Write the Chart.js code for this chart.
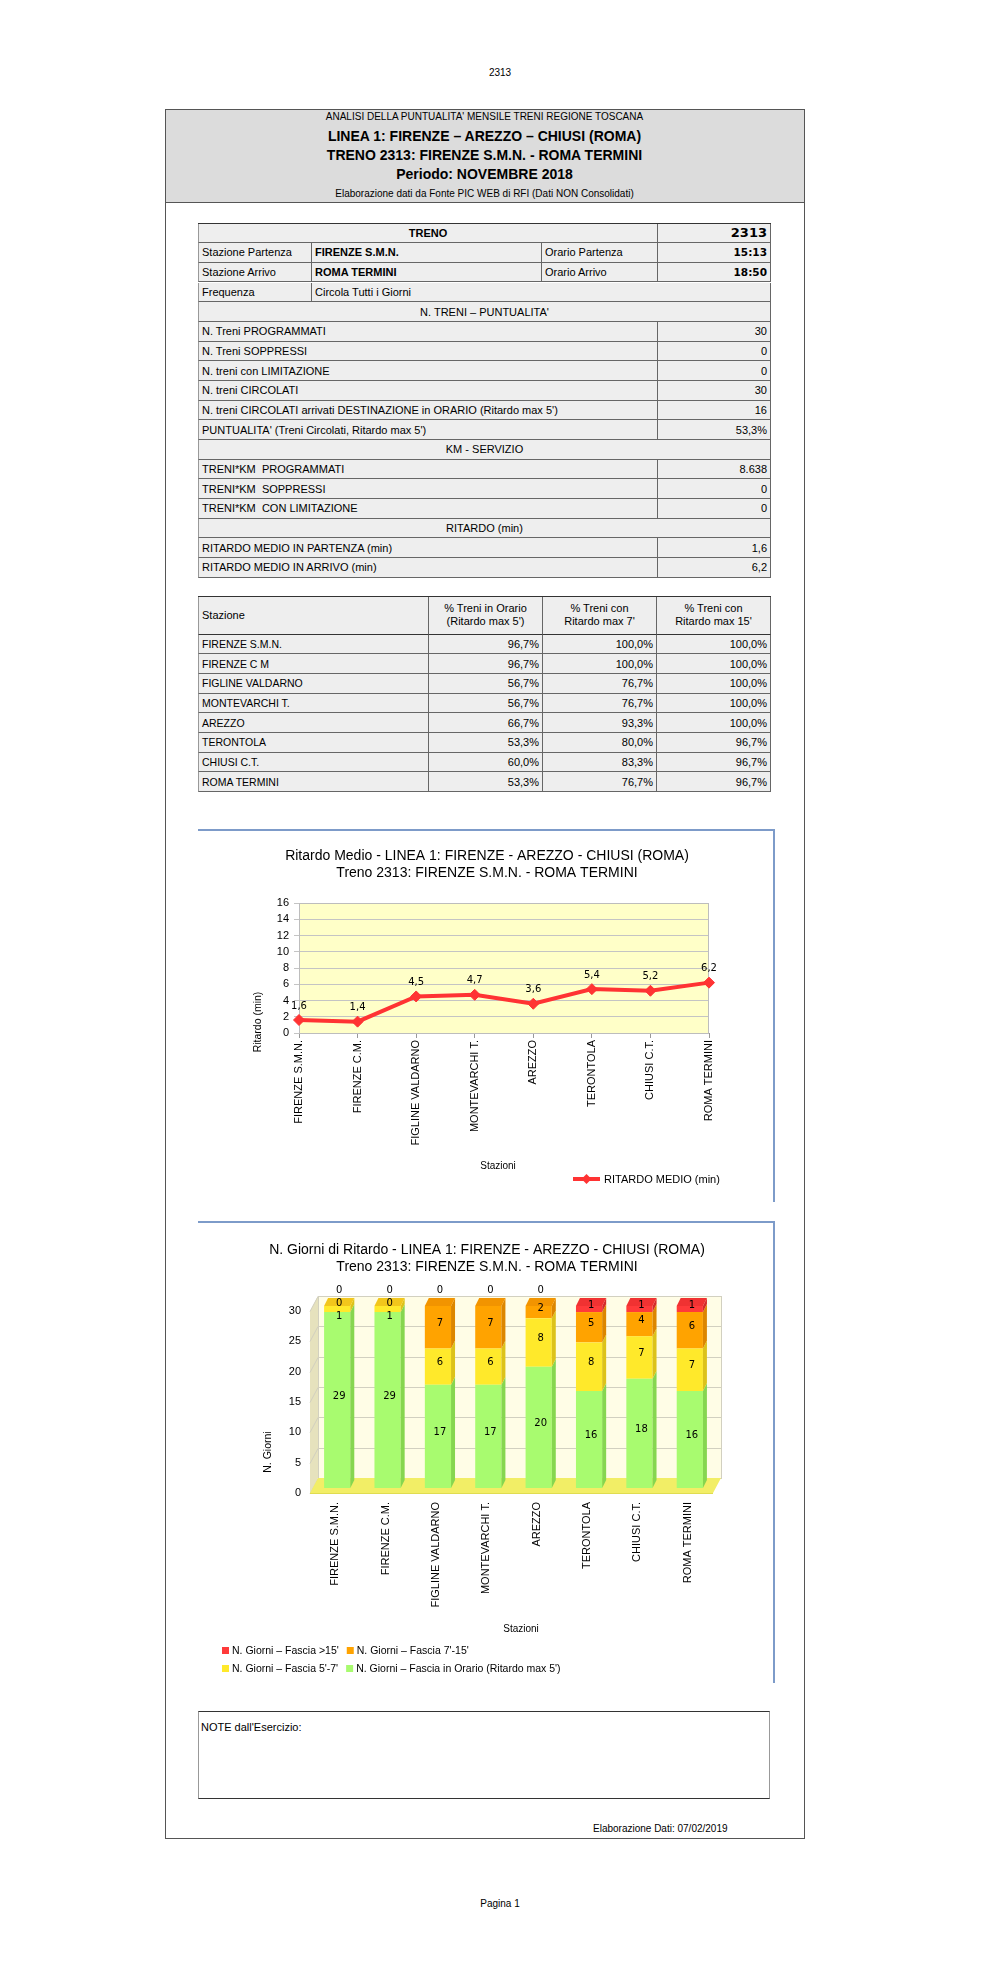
<!DOCTYPE html>
<html lang="it">
<head>
<meta charset="utf-8">
<title>2313</title>
<script src="https://cdn.jsdelivr.net/npm/chart.js@4.4.1/dist/chart.umd.min.js"></script>
<style>
  body { margin: 0; background: #fff; font-family: "Liberation Sans", Arial, sans-serif; color: #000; }
  #page { position: relative; width: 1000px; height: 1981px; overflow: hidden; }
  .frame { position: absolute; left: 165px; top: 109px; width: 638px; height: 1728px; border: 1px solid #555; }
  .head { position: absolute; left: 166px; top: 110px; width: 638px; height: 92px; background: #dcdcdc; border-bottom: 1px solid #555; }
  .chartbox { position: absolute; border-top: 2px solid #7d9bc9; border-right: 2px solid #7d9bc9; box-sizing: border-box; }
  canvas { position: absolute; }
</style>
</head>
<body>
<div id="page">
  <div class="frame"></div>
  <div class="head"></div>
  <div class="chartbox" style="left:198px;top:829px;width:577px;height:373px"></div>
  <div class="chartbox" style="left:198px;top:1221px;width:577px;height:462px"></div>
  <canvas id="c1" width="575" height="371" style="left:198px;top:830px"></canvas>
  <canvas id="c2" width="575" height="460" style="left:198px;top:1222px"></canvas>
</div>
<script>
// Dati del grafico
const stazioni = ['FIRENZE S.M.N.', 'FIRENZE C.M.', 'FIGLINE VALDARNO', 'MONTEVARCHI T.', 'AREZZO', 'TERONTOLA', 'CHIUSI C.T.', 'ROMA TERMINI'];
const ritardoMedio = [1.6, 1.4, 4.5, 4.7, 3.6, 5.4, 5.2, 6.2];
const giorniOrario = [29, 29, 17, 17, 20, 16, 18, 16];
const giorni5_7 = [1, 1, 6, 6, 8, 8, 7, 7];
const giorni7_15 = [0, 0, 7, 7, 2, 5, 4, 6];
const giorniOltre15 = [0, 0, 0, 0, 0, 1, 1, 1];
const ritardoAsse = { min: 0, max: 16, step: 2 };
const giorniAsse = { min: 0, max: 30, step: 5 };

// Dati delle tabelle
const stazioniTabella = ['FIRENZE S.M.N.', 'FIRENZE C M', 'FIGLINE VALDARNO', 'MONTEVARCHI T.', 'AREZZO', 'TERONTOLA', 'CHIUSI C.T.', 'ROMA TERMINI'];
const percOrario = ['96,7%', '96,7%', '56,7%', '56,7%', '66,7%', '53,3%', '60,0%', '53,3%'];
const percMax7 = ['100,0%', '100,0%', '76,7%', '76,7%', '93,3%', '80,0%', '83,3%', '76,7%'];
const percMax15 = ['100,0%', '100,0%', '100,0%', '100,0%', '100,0%', '96,7%', '96,7%', '96,7%'];

const righeTreno = [
  ['h', 'TRENO', '2313'],
  ['i4', 'Stazione Partenza', 'FIRENZE S.M.N.', 'Orario Partenza', '15:13'],
  ['i4', 'Stazione Arrivo', 'ROMA TERMINI', 'Orario Arrivo', '18:50'],
  ['i2', 'Frequenza', 'Circola Tutti i Giorni'],
  ['s', "N. TRENI – PUNTUALITA'"],
  ['kv', 'N. Treni PROGRAMMATI', '30'],
  ['kv', 'N. Treni SOPPRESSI', '0'],
  ['kv', 'N. treni con LIMITAZIONE', '0'],
  ['kv', 'N. treni CIRCOLATI', '30'],
  ['kv', "N. treni CIRCOLATI arrivati DESTINAZIONE in ORARIO (Ritardo max 5')", '16'],
  ['kv', "PUNTUALITA' (Treni Circolati, Ritardo max 5')", '53,3%'],
  ['s', 'KM - SERVIZIO'],
  ['kv', 'TRENI*KM  PROGRAMMATI', '8.638'],
  ['kv', 'TRENI*KM  SOPPRESSI', '0'],
  ['kv', 'TRENI*KM  CON LIMITAZIONE', '0'],
  ['s', 'RITARDO (min)'],
  ['kv', 'RITARDO MEDIO IN PARTENZA (min)', '1,6'],
  ['kv', 'RITARDO MEDIO IN ARRIVO (min)', '6,2']
];

const page = document.getElementById('page');

function box(x, y, w, h, css, text) {
  const d = document.createElement('div');
  d.style.cssText = `position:absolute;left:${x}px;top:${y}px;width:${w}px;height:${h}px;` + (css || '');
  if (text != null) d.textContent = text;
  page.appendChild(d);
  return d;
}

function testo(cx, cy, text, css) {
  return box(cx - 300, cy - 10, 600, 20, 'text-align:center;line-height:20px;white-space:pre;' + (css || ''), text);
}

// Intestazione pagina
testo(500, 73, '2313', 'font-size:10px');
testo(484.5, 117, "ANALISI DELLA PUNTUALITA' MENSILE TRENI REGIONE TOSCANA", 'font-size:10px');
testo(484.5, 135.5, 'LINEA 1: FIRENZE – AREZZO – CHIUSI (ROMA)', 'font-size:14px;font-weight:bold');
testo(484.5, 155, 'TRENO 2313: FIRENZE S.M.N. - ROMA TERMINI', 'font-size:14px;font-weight:bold');
testo(484.5, 174, 'Periodo: NOVEMBRE 2018', 'font-size:14px;font-weight:bold');
testo(484.5, 194, 'Elaborazione dati da Fonte PIC WEB di RFI (Dati NON Consolidati)', 'font-size:10px');
testo(500, 1904, 'Pagina 1', 'font-size:10px');

const cellCss = 'background:#eee;box-sizing:border-box;border-right:1px solid #666;border-bottom:1px solid #666;' +
  'display:flex;align-items:center;padding:0 3px;font-size:11px;white-space:pre;overflow:hidden;';

function cella(x0, x1, y, h, text, extra) {
  return box(x0, y, x1 - x0, h, cellCss + (extra || ''), text);
}

// Tabella treno
const col = [198, 312, 542, 658, 771];
const rh = 19.67;
box(198, 222.5, 573, 1, 'background:#333');
righeTreno.forEach((r, i) => {
  const y = 223.5 + i * rh;
  const left = 'border-left:1px solid #999;';
  const right = 'justify-content:flex-end;';
  if (r[0] === 'h') {
    cella(col[0], col[3], y, rh, r[1], left + 'justify-content:center;font-weight:bold');
    cella(col[3], col[4], y, rh, r[2], right + 'font-weight:bold;font-size:13px;font-family:"DejaVu Sans"');
  } else if (r[0] === 'i4') {
    cella(col[0], col[1], y, rh, r[1], left);
    cella(col[1], col[2], y, rh, r[2], 'font-weight:bold');
    cella(col[2], col[3], y, rh, r[3]);
    cella(col[3], col[4], y, rh, r[4], right + 'font-weight:bold;font-size:10.5px;font-family:"DejaVu Sans"');
  } else if (r[0] === 'i2') {
    cella(col[0], col[1], y, rh, r[1], left);
    cella(col[1], col[4], y, rh, r[2]);
  } else if (r[0] === 's') {
    cella(col[0], col[4], y, rh, r[1], left + 'justify-content:center');
  } else {
    cella(col[0], col[3], y, rh, r[1], left);
    cella(col[3], col[4], y, rh, r[2], right);
  }
});

// Tabella stazioni
const col2 = [198, 429, 543, 657, 771];
box(198, 595.5, 573, 1, 'background:#333');
const hdr = ['Stazione', "% Treni in Orario\n(Ritardo max 5')", '% Treni con\nRitardo max 7\'', "% Treni con\nRitardo max 15'"];
hdr.forEach((t, j) => {
  cella(col2[j], col2[j + 1], 596.5, 38, t,
    (j === 0 ? 'border-left:1px solid #999;' : 'justify-content:center;text-align:center;line-height:13px;') + 'border-bottom:1.5px solid #333');
});
stazioniTabella.forEach((s, i) => {
  const y = 634.5 + i * 19.7;
  cella(col2[0], col2[1], y, 19.7, s, 'border-left:1px solid #999;font-size:10.5px');
  [percOrario, percMax7, percMax15].forEach((arr, j) => {
    cella(col2[j + 1], col2[j + 2], y, 19.7, arr[i], 'justify-content:flex-end');
  });
});

// Note e piè di pagina
box(198, 1711, 572, 88, 'box-sizing:border-box;border-top:1.5px solid #333;border-bottom:1.5px solid #333;border-left:1px solid #999;border-right:1px solid #999');
box(201, 1718, 300, 18, 'font-size:11px;line-height:18px', "NOTE dall'Esercizio:");
box(593, 1821, 200, 16, 'font-size:10px;line-height:16px;white-space:nowrap', 'Elaborazione Dati: 07/02/2019');

// Grafici
Chart.defaults.font.family = '"Liberation Sans", Arial, sans-serif';
Chart.defaults.color = '#000';

const fmt = v => v.toFixed(1).replace('.', ',');
const titoloFont = { family: '"Liberation Sans", Arial, sans-serif', size: 14, weight: 'normal', lineHeight: 1.2 };
const tickFont = { size: 11 };

function testoRuotato(ctx, text, x, y, font) {
  ctx.save();
  ctx.translate(x, y);
  ctx.rotate(-Math.PI / 2);
  ctx.font = font;
  ctx.textAlign = 'center';
  ctx.textBaseline = 'middle';
  ctx.fillText(text, 0, 0);
  ctx.restore();
}

const decoro1 = {
  id: 'decoro1',
  beforeDraw(chart) {
    const { ctx, chartArea: a } = chart;
    ctx.save();
    ctx.fillStyle = '#ffffc8';
    ctx.fillRect(a.left, a.top, a.width, a.height);
    ctx.restore();
  },
  beforeDatasetsDraw(chart) {
    const { ctx, chartArea: a } = chart;
    ctx.save();
    ctx.strokeStyle = '#bdbdbd';
    ctx.lineWidth = 1;
    ctx.strokeRect(a.left + 0.5, a.top + 0.5, a.width - 1, a.height);
    ctx.restore();
  },
  afterDatasetsDraw(chart) {
    const ctx = chart.ctx;
    const meta = chart.getDatasetMeta(0);
    ctx.save();
    ctx.font = '10px "DejaVu Sans"';
    ctx.fillStyle = '#000';
    ctx.textAlign = 'center';
    ctx.textBaseline = 'middle';
    meta.data.forEach((p, i) => ctx.fillText(fmt(ritardoMedio[i]), p.x, p.y - 14));
    ctx.restore();
  },
  afterDraw(chart) {
    const ctx = chart.ctx;
    const ds = chart.data.datasets[0];
    testoRuotato(ctx, 'Ritardo (min)', 60, 192, '10.5px "Liberation Sans"');
    ctx.save();
    ctx.font = '10px "Liberation Sans"';
    ctx.textAlign = 'center';
    ctx.textBaseline = 'middle';
    ctx.fillText('Stazioni', 300, 336);
    // legenda
    ctx.strokeStyle = ds.borderColor;
    ctx.fillStyle = ds.backgroundColor;
    ctx.lineWidth = 4;
    ctx.beginPath();
    ctx.moveTo(375, 349);
    ctx.lineTo(402, 349);
    ctx.stroke();
    ctx.beginPath();
    ctx.moveTo(388.5, 344);
    ctx.lineTo(393.5, 349);
    ctx.lineTo(388.5, 354);
    ctx.lineTo(383.5, 349);
    ctx.closePath();
    ctx.fill();
    ctx.fillStyle = '#000';
    ctx.font = '11px "Liberation Sans"';
    ctx.textAlign = 'left';
    ctx.fillText(ds.label, 406, 349.5);
    ctx.restore();
  }
};

new Chart(document.getElementById('c1'), {
  type: 'line',
  data: {
    labels: stazioni,
    datasets: [{
      label: 'RITARDO MEDIO (min)',
      data: ritardoMedio,
      borderColor: '#ff3333',
      backgroundColor: '#ff3333',
      borderWidth: 4,
      pointStyle: 'rectRot',
      pointRadius: 5.5,
      pointHoverRadius: 5.5,
      pointBorderWidth: 1,
      tension: 0
    }]
  },
  options: {
    responsive: false,
    animation: false,
    devicePixelRatio: 1,
    layout: { padding: { left: 67, right: 64, top: 0, bottom: 28 } },
    plugins: {
      legend: { display: false },
      tooltip: { enabled: false },
      title: {
        display: true,
        text: ['Ritardo Medio - LINEA 1: FIRENZE - AREZZO - CHIUSI (ROMA)', 'Treno 2313: FIRENZE S.M.N. - ROMA TERMINI'],
        font: titoloFont,
        color: '#000',
        padding: { top: 17.6, bottom: 21.8 }
      }
    },
    scales: {
      x: {
        offset: false,
        grid: { drawOnChartArea: false, drawTicks: true, tickLength: 5, color: '#999' },
        border: { display: false },
        ticks: { maxRotation: 90, minRotation: 90, padding: 2, autoSkip: false, font: tickFont },
        afterFit(s) { s.height = 140; }
      },
      y: {
        min: ritardoAsse.min,
        max: ritardoAsse.max,
        ticks: { stepSize: ritardoAsse.step, padding: 5, font: tickFont },
        grid: { color: '#c4c4c4', tickLength: 5 },
        border: { display: false },
        afterFit(s) { s.width = 34; }
      }
    }
  },
  plugins: [decoro1]
});

// Colori delle facce 3D (laterale e superiore) per ogni serie
const latoColori = ['#86d650', '#dcc21a', '#dc8600', '#d42a2a'];
const sopraColori = ['#c2ff96', '#f2c61c', '#f29400', '#f03232'];
const prof = { dx: 8, dy: -15 };
const barProf = { dx: 4, dy: -8 };
const barSposta = { dx: 2, dy: -5 };

function poligono(ctx, pts, fill) {
  ctx.beginPath();
  ctx.moveTo(pts[0][0], pts[0][1]);
  pts.slice(1).forEach(p => ctx.lineTo(p[0], p[1]));
  ctx.closePath();
  ctx.fillStyle = fill;
  ctx.fill();
}

const scena3d = {
  id: 'scena3d',
  beforeDatasetsDraw(chart) {
    const { ctx, chartArea: a, scales: { y } } = chart;
    const { dx, dy } = prof;
    ctx.save();
    poligono(ctx, [[a.left + dx, a.top + dy], [a.right + dx, a.top + dy], [a.right + dx, a.bottom + dy], [a.left + dx, a.bottom + dy]], '#fffde6');
    poligono(ctx, [[a.left, a.top], [a.left + dx, a.top + dy], [a.left + dx, a.bottom + dy], [a.left, a.bottom]], '#e6e2bd');
    ctx.strokeStyle = '#d2d0c0';
    ctx.lineWidth = 1;
    ctx.strokeRect(a.left + dx + 0.5, a.top + dy + 0.5, a.width, a.height);
    y.ticks.forEach(t => {
      const py = Math.round(y.getPixelForValue(t.value)) + 0.5;
      ctx.beginPath();
      ctx.moveTo(a.left, py);
      ctx.lineTo(a.left + dx, py + dy);
      ctx.lineTo(a.right + dx, py + dy);
      ctx.stroke();
    });
    poligono(ctx, [[a.left, a.bottom], [a.right, a.bottom], [a.right + dx, a.bottom + dy], [a.left + dx, a.bottom + dy]], '#f2ee66');
    ctx.strokeStyle = '#e0dc50';
    ctx.beginPath();
    ctx.moveTo(a.left, a.bottom + 0.5);
    ctx.lineTo(a.right, a.bottom + 0.5);
    ctx.stroke();
    ctx.restore();
    ctx.save();
    ctx.translate(barSposta.dx, barSposta.dy);
  },
  afterDatasetsDraw(chart) {
    const ctx = chart.ctx;
    const { dx, dy } = barProf;
    const sets = chart.data.datasets;
    const metas = sets.map((d, i) => chart.getDatasetMeta(i));
    // facce laterali
    sets.forEach((ds, di) => {
      metas[di].data.forEach((el, i) => {
        if (!ds.data[i]) return;
        const r = el.x + el.width / 2;
        poligono(ctx, [[r, el.y], [r + dx, el.y + dy], [r + dx, el.base + dy], [r, el.base]], latoColori[di]);
      });
    });
    // faccia superiore e etichette
    ctx.font = '10px "DejaVu Sans"';
    ctx.textAlign = 'center';
    ctx.textBaseline = 'middle';
    stazioni.forEach((s, i) => {
      let topDi = -1;
      sets.forEach((ds, di) => { if (ds.data[i]) topDi = di; });
      const el = metas[topDi].data[i];
      const l = el.x - el.width / 2, r = el.x + el.width / 2;
      poligono(ctx, [[l, el.y], [l + dx, el.y + dy], [r + dx, el.y + dy], [r, el.y]], sopraColori[topDi]);
      const cima = el.y;
      let zeri = 0;
      let prev = -Infinity;
      ctx.fillStyle = '#000';
      for (let di = sets.length - 1; di >= 0; di--) {
        const e = metas[di].data[i];
        const v = sets[di].data[i];
        let ly;
        if (!v) {
          ly = cima - 16 + 12 * zeri;
          zeri++;
        } else {
          ly = (e.y + e.base) / 2 - 4;
        }
        if (ly < prev + 13) ly = prev + 13;
        prev = ly;
        ctx.fillText(String(v), el.x + 2, ly);
      }
    });
    ctx.restore();
  },
  afterDraw(chart) {
    const ctx = chart.ctx;
    testoRuotato(ctx, 'N. Giorni', 70, 230, '10.5px "Liberation Sans"');
    ctx.save();
    ctx.font = '10px "Liberation Sans"';
    ctx.textAlign = 'center';
    ctx.textBaseline = 'middle';
    ctx.fillText('Stazioni', 323, 407);
    // legenda su due righe
    ctx.font = '10.5px "Liberation Sans"';
    ctx.textAlign = 'left';
    const ds = chart.data.datasets;
    const righe = [[ds[3], ds[2]], [ds[1], ds[0]]];
    righe.forEach((riga, ri) => {
      const y = 429 + ri * 18;
      let x = 24;
      riga.forEach(d => {
        ctx.fillStyle = d.backgroundColor;
        ctx.fillRect(x, y - 4, 7, 7);
        ctx.fillStyle = '#000';
        ctx.fillText(d.label, x + 10, y);
        x += 10 + ctx.measureText(d.label).width + 8;
      });
    });
    ctx.restore();
  }
};

new Chart(document.getElementById('c2'), {
  type: 'bar',
  data: {
    labels: stazioni,
    datasets: [
      { label: "N. Giorni – Fascia in Orario (Ritardo max 5')", data: giorniOrario, backgroundColor: '#a8fb6f' },
      { label: "N. Giorni – Fascia 5'-7'", data: giorni5_7, backgroundColor: '#ffe92b' },
      { label: "N. Giorni – Fascia 7'-15'", data: giorni7_15, backgroundColor: '#ffa300' },
      { label: "N. Giorni – Fascia >15'", data: giorniOltre15, backgroundColor: '#ff3a3a' }
    ]
  },
  options: {
    responsive: false,
    animation: false,
    devicePixelRatio: 1,
    layout: { padding: { left: 63, right: 60, top: 0, bottom: 59 } },
    datasets: { bar: { barPercentage: 0.52, categoryPercentage: 1, borderWidth: 0, clip: false } },
    plugins: {
      legend: { display: false },
      tooltip: { enabled: false },
      title: {
        display: true,
        text: ['N. Giorni di Ritardo - LINEA 1: FIRENZE - AREZZO - CHIUSI (ROMA)', 'Treno 2313: FIRENZE S.M.N. - ROMA TERMINI'],
        font: titoloFont,
        color: '#000',
        padding: { top: 20, bottom: 35.4 }
      }
    },
    scales: {
      x: {
        stacked: true,
        grid: { display: false, drawTicks: false },
        border: { display: false },
        ticks: { maxRotation: 90, minRotation: 90, padding: 9, autoSkip: false, font: tickFont },
        afterFit(s) { s.height = 130; }
      },
      y: {
        stacked: true,
        min: giorniAsse.min,
        max: giorniAsse.max,
        ticks: { stepSize: giorniAsse.step, padding: 9, font: tickFont },
        grid: { display: false, drawTicks: false },
        border: { display: false },
        afterFit(s) { s.width = 49; }
      }
    }
  },
  plugins: [scena3d]
});
</script>
</body>
</html>
